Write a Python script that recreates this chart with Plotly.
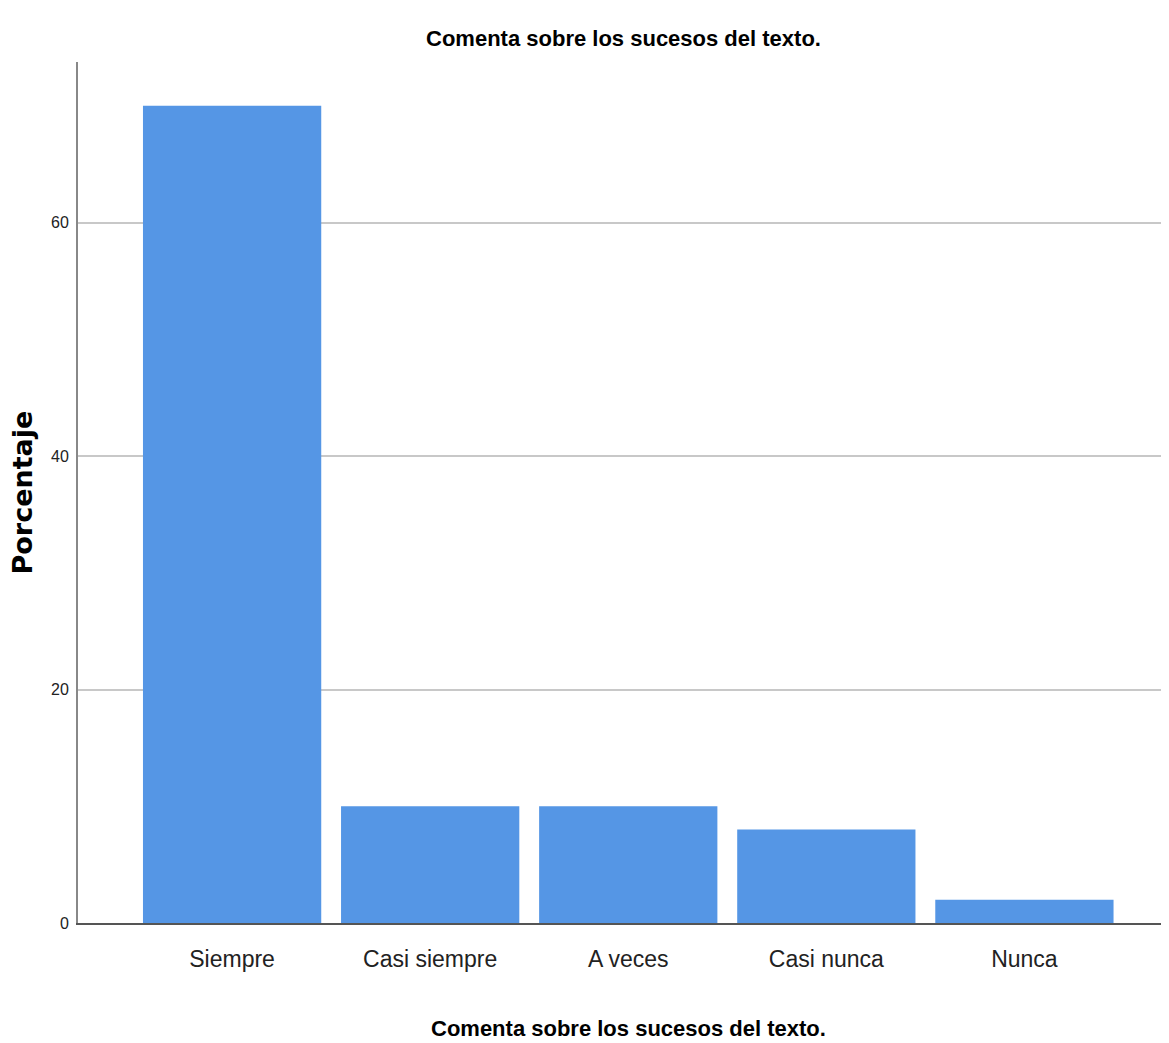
import plotly.graph_objects as go

categories = ["Siempre", "Casi siempre", "A veces", "Casi nunca", "Nunca"]
percentages = [70, 10, 10, 8, 2]
y_ticks = [0, 20, 40, 60]

title_text = "Comenta sobre los sucesos del texto."
y_title = "Porcentaje"

FONT = "Liberation Sans Narrow, Arial Narrow, Liberation Sans, Arial, sans-serif"

W, H = 1161, 1035

fig = go.Figure(
    go.Bar(
        x=categories,
        y=percentages,
        width=0.9,
        marker=dict(color="#5596E5", line=dict(width=0)),
        hoverinfo="x+y",
    )
)

fig.update_layout(
    width=W,
    height=H,
    margin=dict(l=70, r=0, t=54, b=120),
    plot_bgcolor="white",
    paper_bgcolor="white",
    showlegend=False,
    title=dict(
        text="<b>" + title_text + "</b>",
        x=0.5,
        xref="paper",
        y=1 - 30 / H,
        yanchor="middle",
        font=dict(family=FONT, size=22, color="black"),
    ),
    xaxis=dict(
        type="category",
        range=[-0.778, 4.73],
        showgrid=False,
        showline=True,
        linecolor="#555555",
        linewidth=2,
        ticks="",
        tickfont=dict(family=FONT, size=23, color="#222222"),
        ticklabelstandoff=14,
    ),
    yaxis=dict(
        range=[0, 73.75],
        tickvals=y_ticks,
        showgrid=True,
        gridcolor="#c8c8c8",
        gridwidth=2,
        zeroline=False,
        showline=True,
        linecolor="#888888",
        linewidth=2,
        ticks="",
        tickfont=dict(family=FONT, size=16, color="#222222"),
        ticklabelstandoff=4,
    ),
    annotations=[
        dict(
            text="<b>" + title_text + "</b>",
            xref="paper", yref="paper",
            x=0.5, y=0,
            xanchor="center", yanchor="middle",
            xshift=5,
            yshift=-105,
            showarrow=False,
            font=dict(family=FONT, size=22, color="black"),
        ),
        dict(
            text="<b>" + y_title + "</b>",
            xref="paper", yref="paper",
            x=0, y=0.5,
            xanchor="center", yanchor="middle",
            xshift=-56,
            textangle=-90,
            showarrow=False,
            font=dict(family="DejaVu Sans, Liberation Sans, sans-serif", size=27, color="black"),
        ),
    ],
)

fig.write_html("out.html")
